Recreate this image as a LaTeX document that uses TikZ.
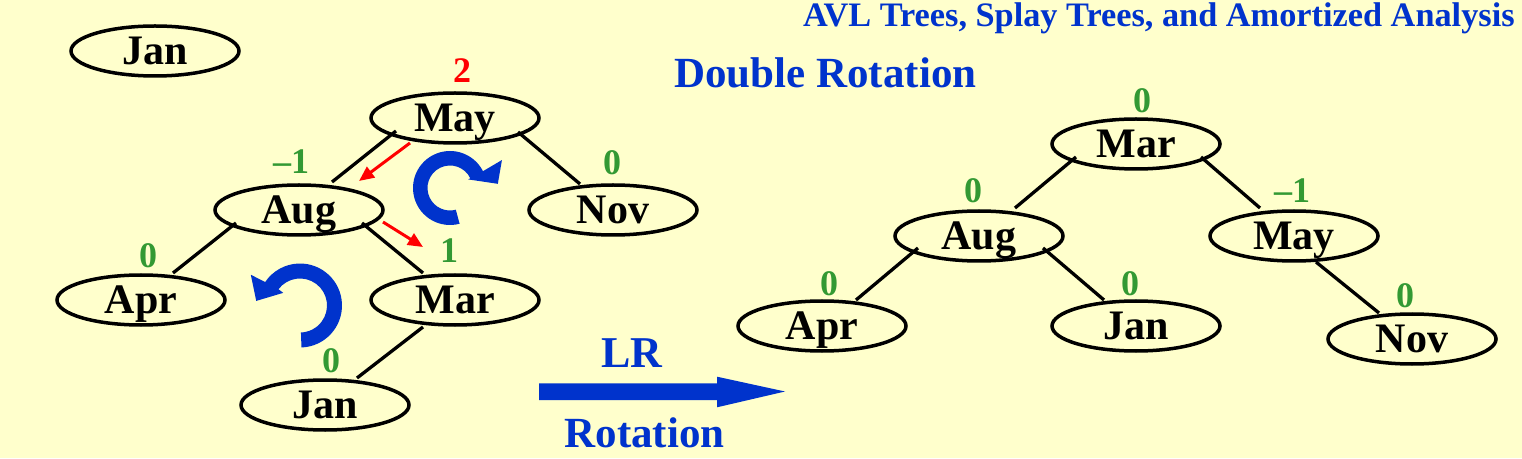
\documentclass[tikz,border=0pt]{standalone}
\usepackage{fontspec}
\setmainfont{Liberation Serif}
\usetikzlibrary{arrows.meta,calc,shapes.geometric}
\definecolor{bgyellow}{RGB}{255,255,204}
\definecolor{tblue}{RGB}{0,51,204}
\definecolor{bgreen}{RGB}{51,153,51}
\definecolor{bred}{RGB}{255,0,0}
\begin{document}
\begin{tikzpicture}[x=1pt,y=1pt,
  tnode/.style={ellipse, draw=black, line width=3.5pt, minimum width=168pt, minimum height=50pt,
    inner sep=0pt, font=\fontsize{42}{42}\selectfont\bfseries, text height=27.5pt, text depth=0pt},
  edge/.style={line width=3.3pt},
  bal/.style={text=bgreen, font=\fontsize{36}{36}\selectfont\bfseries, inner sep=0pt,
    text height=24.5pt, text depth=0pt},
  redarrow/.style={draw=bred, line width=3pt, -{Triangle[length=15pt,width=13pt]}},
  bluetext/.style={text=tblue, inner sep=0pt}
]
\fill[bgyellow] (0,0) rectangle (1522,458);
\useasboundingbox (0,0) rectangle (1522,458);

% titles
\node[bluetext, anchor=base west, font=\fontsize{34.3}{34.3}\selectfont\bfseries] (title) at (803,431)
  {AVL Trees, Splay Trees, and Amortized Analysis};
\node[bluetext, anchor=base west, font=\fontsize{43}{43}\selectfont\bfseries] (dbl) at (674,370)
  {Double Rotation};

% left tree
\node[tnode] (lJanA) at (155,407) {Jan};
\node[tnode] (lMay) at (455,340) {May};
\node[tnode] (lAug) at (299,248) {Aug};
\node[tnode] (lNov) at (613,248) {Nov};
\node[tnode] (lApr) at (141,158) {Apr};
\node[tnode] (lMar) at (455,158) {Mar};
\node[tnode] (lJan) at (325,53) {Jan};

\draw[edge] ($(lMay)+(-59,-13)$) -- ($(lAug)+(33,28)$);
\draw[edge] ($(lMay)+(63,-14)$) -- ($(lNov)+(-33,26)$);
\draw[edge] ($(lAug)+(-63,-13)$) -- ($(lApr)+(32,27)$);
\draw[edge] ($(lAug)+(63,-13)$) -- ($(lMar)+(-32,27)$);
\draw[edge] ($(lMar)+(-32,-27)$) -- ($(lJan)+(32,27)$);

\node[bal, text=bred] (bMay) at (462,388) {2};
\node[bal] (bAug) at (291,297) {–1};
\node[bal] (bNov) at (612,296) {0};
\node[bal] (bApr) at (148,203) {0};
\node[bal] (bMar) at (449,208) {1};
\node[bal] (bJan) at (331,98) {0};

% red arrows
\coordinate (r1s) at (410,315);
\coordinate (r1e) at (359,277);
\coordinate (r2s) at (383,236);
\coordinate (r2e) at (423,211);
\draw[redarrow] (r1s) -- (r1e);
\draw[redarrow] (r2s) -- (r2e);

% blue rotation arrows
\coordinate (c1) at (450,270);
\fill[tblue] ($(c1)+(-75:37)$) arc[start angle=-75, end angle=-333, radius=37]
  -- ($(c1)+(28.3:59)$) -- ($(c1)+(5:48)$) -- ($(c1)+(25.5:20)$) -- ($(c1)+(25.5:22.5)$)
  arc[start angle=-334.5, end angle=-75, radius=22.5] -- cycle;
\coordinate (c2) at (300,152.5);
\fill[tblue] ($(c2)+(-88:42)$) arc[start angle=-88, end angle=146, radius=42]
  -- ($(c2)+(148:58)$) -- ($(c2)+(174:44)$) -- ($(c2)+(143:21)$) -- ($(c2)+(143:27)$)
  arc[start angle=143, end angle=-88, radius=27] -- cycle;

% LR arrow
\fill[tblue] (539,74.7) -- (717,74.7) -- (717,81.3) -- (785,66.5) -- (717,50.7) -- (717,58)
  -- (539,58) -- cycle;
\node[bluetext, anchor=base, font=\fontsize{44}{44}\selectfont\bfseries] (lr) at (632,91) {LR};
\node[bluetext, anchor=base, font=\fontsize{43}{43}\selectfont\bfseries] (rot) at (644.5,11) {Rotation};

% right tree
\node[tnode] (rMar) at (1136,314) {Mar};
\node[tnode] (rAug) at (979,222) {Aug};
\node[tnode] (rMay) at (1294,222) {May};
\node[tnode] (rApr) at (822,132) {Apr};
\node[tnode] (rJan) at (1136,132) {Jan};
\node[tnode] (rNov) at (1412,119) {Nov};

\draw[edge] ($(rMar)+(-60,-13)$) -- ($(rAug)+(36,28)$);
\draw[edge] ($(rMar)+(65,-13)$) -- ($(rMay)+(-34,28)$);
\draw[edge] ($(rAug)+(-61,-12)$) -- ($(rApr)+(34,26)$);
\draw[edge] ($(rAug)+(64,-12)$) -- ($(rJan)+(-32,26)$);
\draw[edge] ($(rMay)+(22,-26)$) -- ($(rNov)+(-33,26)$);

\node[bal] (qMar) at (1142,358) {0};
\node[bal] (qAug) at (973,268) {0};
\node[bal] (qMay) at (1292,268) {–1};
\node[bal] (qApr) at (829,175) {0};
\node[bal] (qJan) at (1130,175) {0};
\node[bal] (qNov) at (1405,163) {0};
\end{tikzpicture}
\end{document}
